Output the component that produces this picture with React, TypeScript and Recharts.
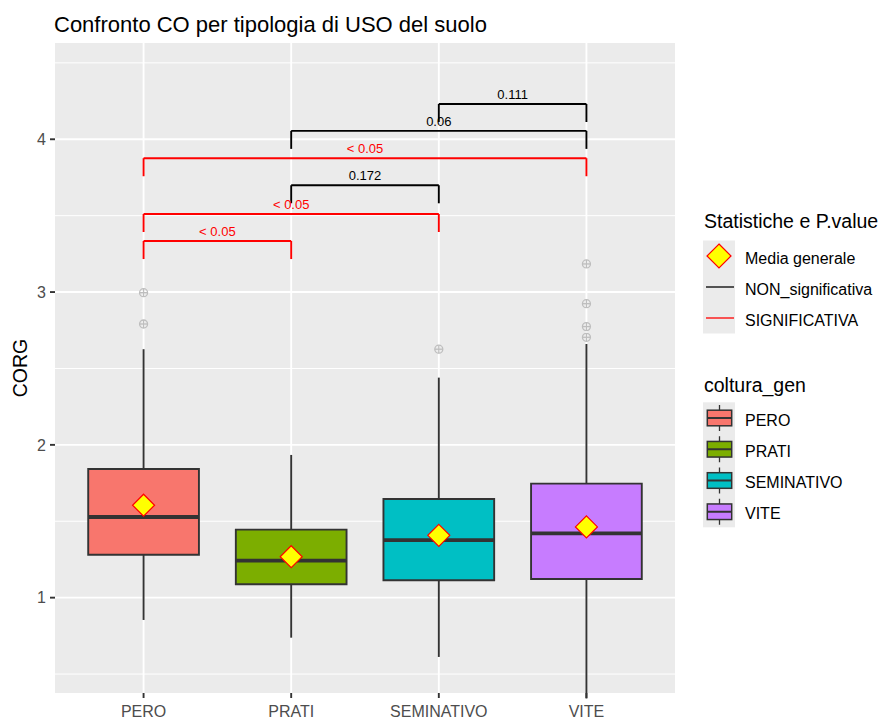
import React from 'react';
import {
  ComposedChart,
  XAxis,
  YAxis,
  CartesianGrid,
  ReferenceArea,
  ReferenceLine,
  Scatter,
  Legend,
} from 'recharts';

// box statistics per land-use class
const categories = ['PERO', 'PRATI', 'SEMINATIVO', 'VITE'];
const fillColors = ['#F8766D', '#7CAE00', '#00BFC4', '#C77CFF'];
const q1 = [1.281, 1.088, 1.114, 1.122];
const medians = [1.528, 1.242, 1.376, 1.421];
const q3 = [1.842, 1.445, 1.646, 1.746];
const whiskerLow = [0.854, 0.738, 0.612, 0.34];
const whiskerHigh = [2.626, 1.934, 2.44, 2.66];
const means = [1.605, 1.268, 1.408, 1.463];
const outliers = [[2.996, 2.791], [], [2.626], [3.184, 2.924, 2.774, 2.704]];

// pairwise comparisons (indices into categories)
const bracketFrom = [2, 1, 0, 1, 0, 0];
const bracketTo = [3, 3, 3, 2, 2, 1];
const bracketY = [4.231, 4.055, 3.876, 3.699, 3.511, 3.334];
const bracketLabels = ['0.111', '0.06', '< 0.05', '0.172', '< 0.05', '< 0.05'];
const bracketSignificant = [false, false, true, false, true, true];

const xTicks = [1, 2, 3, 4];
const yTicks = [1, 2, 3, 4];
const yMinor = [0.5, 1.5, 2.5, 3.5, 4.5];

const FONT = 'Arial, "Liberation Sans", sans-serif';
const BOX_HALF = 0.375;
const TIP = 0.118;
const RED = '#FF0000';

const meanPoints = means.map((y, i) => ({ x: i + 1, y }));
const outlierPoints = outliers.flatMap((vals, i) => vals.map((y) => ({ x: i + 1, y })));

const MeanDiamond = (props: any) => {
  const { cx, cy } = props;
  const r = 11;
  return (
    <polygon
      points={`${cx},${cy - r} ${cx + r},${cy} ${cx},${cy + r} ${cx - r},${cy}`}
      fill="#FFFF00"
      stroke={RED}
      strokeWidth={1.2}
    />
  );
};

const OutlierMark = (props: any) => {
  const { cx, cy } = props;
  const r = 4;
  return (
    <g stroke="#BEBEBE" strokeWidth={1.3} fill="none">
      <circle cx={cx} cy={cy} r={r} />
      <line x1={cx - r} x2={cx + r} y1={cy} y2={cy} />
      <line x1={cx} x2={cx} y1={cy - r} y2={cy + r} />
    </g>
  );
};

const LegendPanel = () => (
  <svg width={186} height={340} style={{ display: 'block', fontFamily: FONT }}>
    <text x={6} y={28.3} fontSize={19.5} fill="#000">Statistiche e P.value</text>
    <rect x={5} y={40.5} width={32} height={93} fill="#EBEBEB" />
    <polygon points="21,44 33,56 21,68 9,56" fill="#FFFF00" stroke={RED} strokeWidth={1.2} />
    <line x1={8} x2={36} y1={87} y2={87} stroke="#000" strokeWidth={1.3} />
    <line x1={8} x2={36} y1={118} y2={118} stroke={RED} strokeWidth={1.3} />
    <text x={47} y={63.5} fontSize={16} fill="#000">Media generale</text>
    <text x={47} y={94.5} fontSize={16} fill="#000">NON_significativa</text>
    <text x={47} y={125.5} fontSize={16} fill="#000">SIGNIFICATIVA</text>

    <text x={6} y={191.7} fontSize={19.5} fill="#000">coltura_gen</text>
    <rect x={5} y={202.3} width={32} height={125} fill="#EBEBEB" />
    {categories.map((name, i) => {
      const cy = 218 + i * 31.25;
      return (
        <g key={name}>
          <line x1={21.5} x2={21.5} y1={cy - 13} y2={cy + 13} stroke="#333" strokeWidth={1.3} />
          <rect x={9.3} y={cy - 7.8} width={24.4} height={15.6} fill={fillColors[i]} stroke="#333" strokeWidth={1.5} />
          <line x1={9.3} x2={33.7} y1={cy} y2={cy} stroke="#333" strokeWidth={2} />
          <text x={47} y={cy + 7.7} fontSize={16} fill="#000">{name}</text>
        </g>
      );
    })}
  </svg>
);

const YTitle = (props: any) => {
  const vb = props.viewBox || {};
  const cx = 27;
  const cy = (vb.y ?? 43) + (vb.height ?? 650) / 2;
  return (
    <text
      x={cx}
      y={cy}
      transform={`rotate(-90, ${cx}, ${cy})`}
      textAnchor="middle"
      fontSize={19.5}
      fill="#000"
      fontFamily={FONT}
    >
      CORG
    </text>
  );
};

export default function App() {
  return (
    <div style={{ position: 'absolute', left: 0, top: 0, width: 884, height: 720, background: '#fff', fontFamily: FONT }}>
      <ComposedChart width={884} height={720} margin={{ top: 43, right: 209, bottom: 0, left: 0 }}>
        <CartesianGrid fill="#EBEBEB" stroke="#FFFFFF" strokeWidth={1.9} horizontalValues={yTicks} verticalValues={xTicks} />
        <CartesianGrid stroke="#FFFFFF" strokeWidth={1} horizontalValues={yMinor} vertical={false} />
        <XAxis
          type="number"
          dataKey="x"
          domain={[0.4, 4.6]}
          ticks={xTicks}
          interval={0}
          allowDataOverflow
          tickFormatter={(v: number) => categories[v - 1]}
          axisLine={false}
          tickLine={{ stroke: '#333', strokeWidth: 1.9 }}
          tickSize={5}
          tickMargin={8}
          height={27}
          tick={{ fill: '#4D4D4D', fontSize: 16, fontFamily: FONT }}
        />
        <YAxis
          type="number"
          dataKey="y"
          domain={[0.376, 4.63]}
          ticks={yTicks}
          interval={0}
          allowDataOverflow
          axisLine={false}
          tickLine={{ stroke: '#333', strokeWidth: 1.9 }}
          tickSize={5}
          tickMargin={4}
          width={55}
          tick={{ fill: '#4D4D4D', fontSize: 16, fontFamily: FONT }}
          label={{ content: (p: any) => <YTitle {...p} /> }}
        />

        {/* boxes */}
        {categories.map((name, i) => (
          <ReferenceArea
            key={`box-${name}`}
            x1={i + 1 - BOX_HALF}
            x2={i + 1 + BOX_HALF}
            y1={q1[i]}
            y2={q3[i]}
            fill={fillColors[i]}
            fillOpacity={1}
            stroke="#333333"
            strokeWidth={1.9}
            zIndex={100}
          />
        ))}

        {/* whiskers */}
        {categories.map((name, i) => (
          <ReferenceLine
            key={`wl-${name}`}
            segment={[{ x: i + 1, y: whiskerLow[i] }, { x: i + 1, y: q1[i] }]}
            stroke="#333333"
            strokeWidth={1.9}
            ifOverflow="visible"
            zIndex={400}
          />
        ))}
        {categories.map((name, i) => (
          <ReferenceLine
            key={`wh-${name}`}
            segment={[{ x: i + 1, y: q3[i] }, { x: i + 1, y: whiskerHigh[i] }]}
            stroke="#333333"
            strokeWidth={1.9}
            zIndex={400}
          />
        ))}

        {/* medians */}
        {categories.map((name, i) => (
          <ReferenceLine
            key={`med-${name}`}
            segment={[{ x: i + 1 - BOX_HALF, y: medians[i] }, { x: i + 1 + BOX_HALF, y: medians[i] }]}
            stroke="#333333"
            strokeWidth={3.8}
            zIndex={450}
          />
        ))}

        {/* significance brackets */}
        {bracketY.map((y, k) => {
          const x1 = bracketFrom[k] + 1;
          const x2 = bracketTo[k] + 1;
          const color = bracketSignificant[k] ? RED : '#000000';
          return (
            <React.Fragment key={`br-${k}`}>
              <ReferenceLine
                segment={[{ x: x1, y }, { x: x2, y }]}
                stroke={color}
                strokeWidth={1.9}
                zIndex={400}
                label={{ value: bracketLabels[k], position: 'top', offset: 5, fill: color, fontSize: 13, fontFamily: FONT }}
              />
              <ReferenceLine segment={[{ x: x1, y }, { x: x1, y: y - TIP }]} stroke={color} strokeWidth={1.9} zIndex={400} />
              <ReferenceLine segment={[{ x: x2, y }, { x: x2, y: y - TIP }]} stroke={color} strokeWidth={1.9} zIndex={400} />
            </React.Fragment>
          );
        })}

        <Scatter data={outlierPoints} shape={(p: any) => <OutlierMark {...p} />} isAnimationActive={false} zIndex={600} />
        <Scatter data={meanPoints} shape={(p: any) => <MeanDiamond {...p} />} isAnimationActive={false} zIndex={650} />

        <Legend
          layout="horizontal"
          verticalAlign="middle"
          align="center"
          content={() => <LegendPanel />}
          wrapperStyle={{ left: 698, top: 200, width: 186, height: 340 }}
        />

        <text x={54} y={31.7} fontSize={22} fill="#000" fontFamily={FONT}>
          Confronto CO per tipologia di USO del suolo
        </text>
      </ComposedChart>
    </div>
  );
}
